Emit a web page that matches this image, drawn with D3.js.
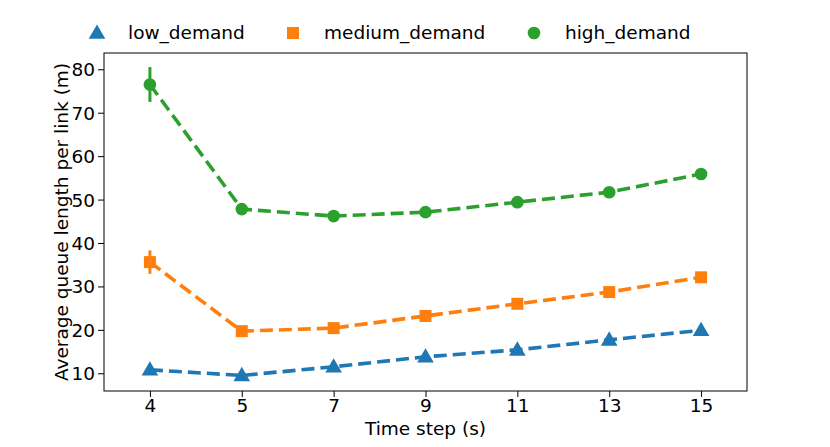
<!DOCTYPE html>
<html><head><meta charset="utf-8">
<script src="https://cdn.jsdelivr.net/npm/d3@7"></script>
<style>body{margin:0;background:#fff}svg{display:block}text{font-family:"DejaVu Sans",sans-serif;fill:#000}</style>
</head><body><svg id="c" width="830" height="447"></svg>
<script>
const categories = ["4","5","7","9","11","13","15"];
const lowDemand = [10.8, 9.5, 11.5, 13.8, 15.4, 17.7, 19.9];
const mediumDemand = [35.6, 19.7, 20.4, 23.2, 26.0, 28.7, 32.1];
const highDemand = [76.5, 47.8, 46.2, 47.1, 49.4, 51.7, 55.9];
const lowErr = [0.4, 0.3, 0.3, 0.3, 0.3, 0.3, 0.4];
const mediumErr = [2.7, 0.5, 0.4, 0.4, 0.5, 0.5, 0.6];
const highErr = [4.0, 0.5, 0.5, 0.5, 0.6, 0.6, 1.0];
const yTicks = [10,20,30,40,50,60,70,80];
const seriesNames = ["low_demand","medium_demand","high_demand"];
const colors = ["#1f77b4","#ff7f0e","#2ca02c"];

const series = [
  {name:seriesNames[0], vals:lowDemand, err:lowErr, color:colors[0], sym:d3.symbolTriangle, size:120},
  {name:seriesNames[1], vals:mediumDemand, err:mediumErr, color:colors[1], sym:d3.symbolSquare, size:144},
  {name:seriesNames[2], vals:highDemand, err:highErr, color:colors[2], sym:d3.symbolCircle, size:125}
];

const FS = 18.5;
const L=104, R=747, T=53, B=391;
const svg = d3.select("#c");
const x = d3.scalePoint().domain(categories).range([L,R]).padding(0.5);
const y = d3.scaleLinear().domain([5.92, 83.75]).range([B,T]);

// axes
const xa = svg.append("g").attr("transform",`translate(0,${B})`)
  .call(d3.axisBottom(x).tickSize(6).tickPadding(2));
const ya = svg.append("g").attr("transform",`translate(${L},0)`)
  .call(d3.axisLeft(y).tickValues(yTicks).tickSize(6).tickPadding(3));
[xa,ya].forEach(a=>{a.select(".domain").remove();a.selectAll("text").attr("font-size",FS).attr("font-family","DejaVu Sans");a.selectAll("line").attr("stroke","#000").attr("stroke-width",1);});
ya.selectAll("text").attr("dy","0.35em");

svg.append("rect").attr("x",L).attr("y",T).attr("width",R-L).attr("height",B-T)
  .attr("fill","none").attr("stroke","#000").attr("stroke-width",1);

const line = d3.line().x((d,i)=>x(categories[i])).y(d=>y(d));
series.forEach(s=>{
  const g = svg.append("g");
  g.append("path").datum(s.vals).attr("d",line).attr("fill","none")
    .attr("stroke",s.color).attr("stroke-width",3.6).attr("stroke-dasharray","13,6");
  g.selectAll("line.err").data(s.vals).join("line")
    .attr("x1",(d,i)=>x(categories[i])).attr("x2",(d,i)=>x(categories[i]))
    .attr("y1",(d,i)=>y(d - s.err[i])).attr("y2",(d,i)=>y(d + s.err[i]))
    .attr("stroke",s.color).attr("stroke-width",3);
  g.selectAll("path.m").data(s.vals).join("path")
    .attr("d",d3.symbol().type(s.sym).size(s.size))
    .attr("transform",(d,i)=>`translate(${x(categories[i])},${y(d)+(s.sym===d3.symbolTriangle?1:0)})`)
    .attr("fill",s.color);
});

// legend
const legX = [97, 293, 534];
series.forEach((s,i)=>{
  svg.append("path").attr("d",d3.symbol().type(s.sym).size(s.size)).attr("fill",s.color)
    .attr("transform",`translate(${legX[i]},${33+(s.sym===d3.symbolTriangle?1:0)})`);
  svg.append("text").attr("x",legX[i]+31).attr("y",33).attr("dy","0.35em")
    .attr("font-size",FS).text(s.name);
});

svg.append("text").attr("x",(L+R)/2).attr("y",435).attr("text-anchor","middle")
  .attr("font-size",FS).text("Time step (s)");
svg.append("text").attr("transform",`translate(68,${(T+B)/2}) rotate(-90)`)
  .attr("text-anchor","middle").attr("font-size",FS).text("Average queue length per link (m)");
</script></body></html>
